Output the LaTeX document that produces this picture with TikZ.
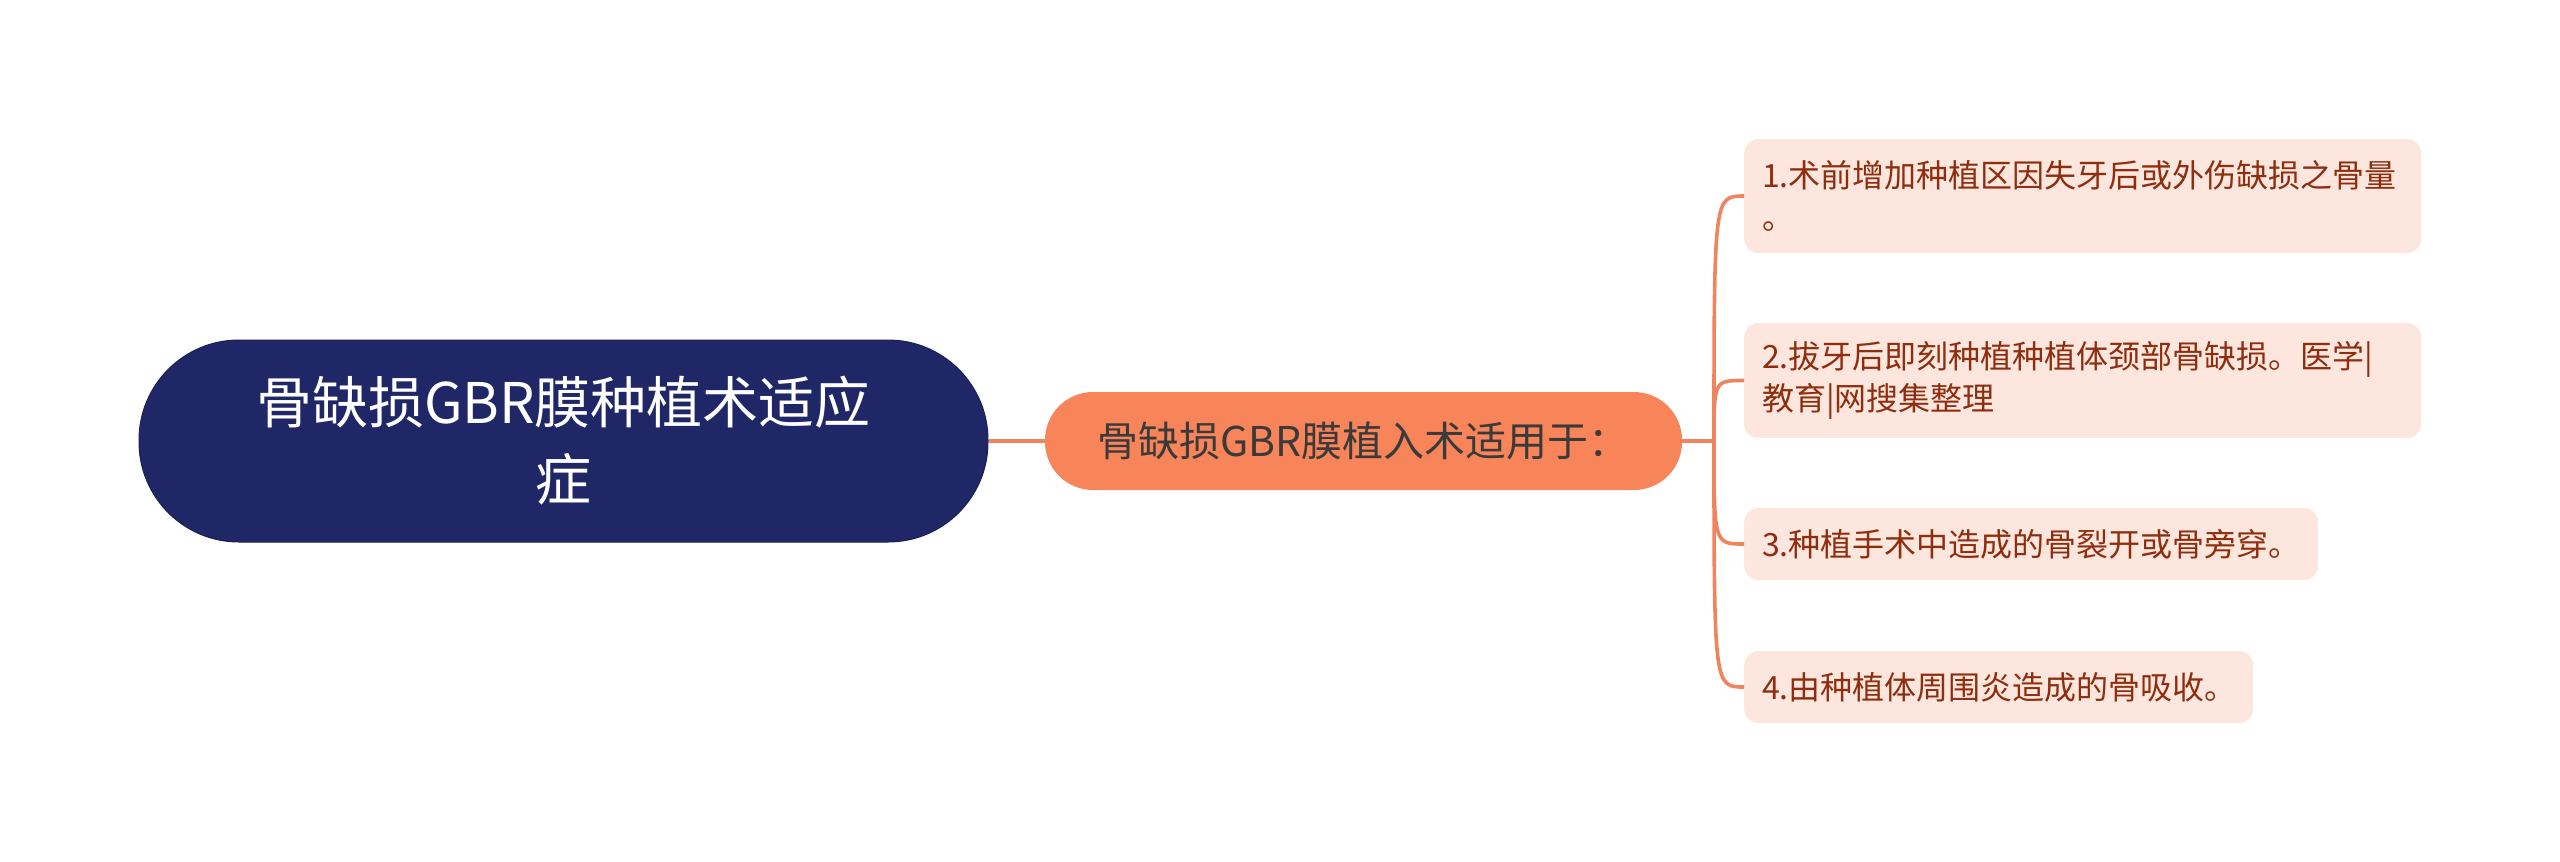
\documentclass[tikz,border=0pt]{standalone}
\usepackage{fontspec}
\newfontfamily\cjk{Noto Sans CJK SC}
\definecolor{rootfill}{HTML}{1F2766}
\definecolor{rootdraw}{HTML}{1A2055}
\definecolor{midfill}{HTML}{F8845A}
\definecolor{midtext}{HTML}{3A3A3A}
\definecolor{leaffill}{HTML}{FDE6DD}
\definecolor{leaftext}{HTML}{8E2E0E}
\definecolor{conn}{HTML}{F0845E}
\tikzset{
  rootbox/.style={rectangle, fill=rootfill, draw=rootdraw, line width=1pt,
    minimum width=849pt, minimum height=202pt, rounded corners=100pt,
    text=white, align=center, inner sep=0pt,
    font=\cjk\fontsize{56}{77}\selectfont},
  midbox/.style={rectangle, fill=midfill, minimum width=637pt, minimum height=98pt,
    rounded corners=48pt, text=midtext, inner sep=0pt,
    font=\cjk\fontsize{41}{48}\selectfont},
  leafbox/.style={rectangle, fill=leaffill, rounded corners=14pt, anchor=west,
    text=leaftext, align=left, inner xsep=18pt, inner ysep=0pt,
    font=\cjk\fontsize{32}{42}\selectfont},
  link/.style={draw=conn, line width=3.6pt},
}
\begin{document}
\begin{tikzpicture}[x=1pt,y=1pt]
\useasboundingbox (0,0) rectangle (2560,-862);
\node[rootbox] (root) at (563.5,-441) {骨缺损GBR膜种植术适应\\症};
\node[midbox] (mid) at (1363.5,-441) {骨缺损GBR膜植入术适用于：};
\node[leafbox, minimum width=677pt, minimum height=114pt, text width=641pt] (l1) at (1744,-196) {1.术前增加种植区因失牙后或外伤缺损之骨量\\。};
\node[leafbox, minimum width=677pt, minimum height=115pt, text width=641pt] (l2) at (1744,-380.5) {2.拔牙后即刻种植种植体颈部骨缺损。医学|\\教育|网搜集整理};
\node[leafbox, minimum width=574pt, minimum height=72pt, text width=538pt] (l3) at (1744,-544) {3.种植手术中造成的骨裂开或骨旁穿。};
\node[leafbox, minimum width=509pt, minimum height=72pt, text width=473pt] (l4) at (1744,-687) {4.由种植体周围炎造成的骨吸收。};
\coordinate (j) at (1714,-441);
\draw[link] (root.east) -- (mid.west);
\draw[link] (mid.east) -- (j);
\draw[link] (j) .. controls (j |- l1.west) .. (l1.west);
\draw[link] (j) .. controls (j |- l2.west) .. (l2.west);
\draw[link] (j) .. controls (j |- l3.west) .. (l3.west);
\draw[link] (j) .. controls (j |- l4.west) .. (l4.west);
\end{tikzpicture}
\end{document}
